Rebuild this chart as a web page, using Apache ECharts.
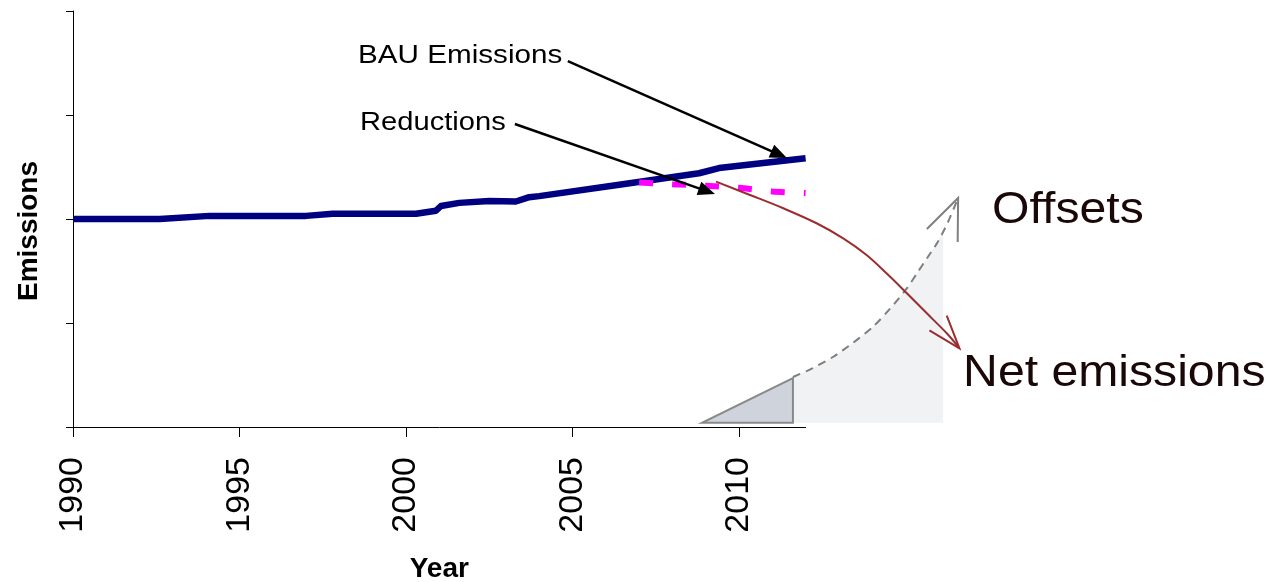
<!DOCTYPE html>
<html><head><meta charset="utf-8">
<script src="https://cdn.jsdelivr.net/npm/echarts@6/dist/echarts.min.js"></script>
<style>html,body{margin:0;padding:0;background:#fff}#c{width:1271px;height:582px}</style>
</head><body><div id="c"></div>
<script>
// ---- data ----
const bauYears  = [1990, 1992.6, 1994.1, 1997.0, 1997.8, 2000.3, 2000.9, 2001.05, 2001.6, 2002.5, 2003.3, 2003.7, 2004.0, 2006.4, 2008.8, 2009.4, 2012];
const bauValues = [2.00, 2.00, 2.03, 2.03, 2.05, 2.05, 2.08, 2.125, 2.155, 2.173, 2.168, 2.21, 2.22, 2.33, 2.44, 2.49, 2.585];
const reductionYears  = [2007, 2008, 2009, 2010, 2011, 2012];
const reductionValues = [2.35, 2.335, 2.32, 2.30, 2.265, 2.25];
const xTickYears = [1990, 1995, 2000, 2005, 2010];

// annotation geometry, in data units (year, emissions)
const netYears  = [2009.31, 2010.33, 2011.33, 2012.33, 2013.13, 2013.83, 2014.43, 2015.04, 2015.64, 2016.24, 2016.62];
const netValues = [2.359, 2.231, 2.103, 1.959, 1.814, 1.654, 1.478, 1.286, 1.093, 0.901, 0.757];
const offsetYears  = [2011.62, 2012.22, 2012.82, 2013.42, 2014.02, 2014.53, 2015.05, 2015.35, 2015.65, 2015.95, 2016.25, 2016.58];
const offsetValues = [0.481, 0.567, 0.673, 0.808, 0.962, 1.135, 1.337, 1.481, 1.625, 1.769, 1.952, 2.202];
const offsetFillEnd = [2016.13, 1.885];
const baseValue = 0.04;
const triangleYears = [2008.89, 2011.62, 2011.62];
const triangleValues = [0.04, 0.04, 0.471];
const bauArrow = [[2004.86, 3.519], [2011.44, 2.587]];
const redArrow = [[2003.27, 2.913], [2009.28, 2.240]];
const labels = [
  {text: 'BAU Emissions', at: [1998.56, 3.567], size: 26, sx: 1.14, color: '#000'},
  {text: 'Reductions',    at: [1998.62, 2.923], size: 26, sx: 1.12, color: '#000'},
  {text: 'Offsets',       at: [2017.60, 2.077], size: 45, sx: 1.07, color: '#1a0808'},
  {text: 'Net emissions', at: [2016.73, 0.510], size: 45, sx: 1.07, color: '#1a0808'}
];

const FONT = "'Liberation Sans', Arial, sans-serif";
const chart = echarts.init(document.getElementById('c'), null, {renderer: 'canvas'});

chart.setOption({
  animation: false,
  backgroundColor: '#fff',
  grid: {left: 73, right: 465.4, top: 11, bottom: 155, containLabel: false, outerBoundsMode: 'none'},
  xAxis: {
    type: 'value', min: 1990, max: 2012, interval: 5,
    name: 'Year', nameLocation: 'middle', nameGap: 128,
    nameTextStyle: {fontFamily: FONT, fontWeight: 'bold', fontSize: 28, color: '#000'},
    axisLine: {show: true, lineStyle: {color: '#000', width: 1}},
    axisTick: {show: true, length: 10, lineStyle: {color: '#000'}, customValues: xTickYears},
    axisLabel: {rotate: 90, margin: 30, fontFamily: FONT, fontSize: 34, color: '#000',
      customValues: xTickYears, formatter: v => String(v)},
    splitLine: {show: false}
  },
  yAxis: {
    type: 'value', min: 0, max: 4, interval: 1,
    name: 'Emissions', nameLocation: 'middle', nameGap: 30,
    nameTextStyle: {fontFamily: FONT, fontWeight: 'bold', fontSize: 28, color: '#000', padding: [0, 24, 0, 0]},
    axisLine: {show: true, lineStyle: {color: '#000', width: 1}},
    axisTick: {show: true, length: 7, lineStyle: {color: '#000'}},
    axisLabel: {show: false},
    splitLine: {show: false}
  },
  series: [
    {
      type: 'line', name: 'BAU Emissions', showSymbol: false, symbol: 'none',
      data: bauYears.map((y, i) => [y, bauValues[i]]),
      lineStyle: {color: '#000080', width: 6.5, cap: 'butt', join: 'round'}, z: 3
    },
    {
      type: 'line', name: 'Reductions', showSymbol: false, symbol: 'none', smooth: 0.3,
      data: reductionYears.map((y, i) => [y, reductionValues[i]]),
      lineStyle: {color: '#ff00ff', width: 6, type: [14, 19], cap: 'butt'}, z: 4
    }
  ]
});

function px(p) { return chart.convertToPixel({gridIndex: 0}, p); }
function openHead(tip, from, len, half) {
  const a = Math.atan2(from[1] - tip[1], from[0] - tip[0]);
  return [
    [tip[0] + len * Math.cos(a + half), tip[1] + len * Math.sin(a + half)],
    tip,
    [tip[0] + len * Math.cos(a - half), tip[1] + len * Math.sin(a - half)]
  ];
}
function filledHead(tip, from, len, halfW) {
  const a = Math.atan2(tip[1] - from[1], tip[0] - from[0]);
  const bx = tip[0] - len * Math.cos(a), by = tip[1] - len * Math.sin(a);
  const nx = -Math.sin(a), ny = Math.cos(a);
  return [tip, [bx + halfW * nx, by + halfW * ny], [bx - halfW * nx, by - halfW * ny]];
}

const offPts = offsetYears.map((y, i) => px([y, offsetValues[i]]));
const fillPts = [];
offsetYears.forEach((y, i) => { if (y <= offsetFillEnd[0]) fillPts.push(px([y, offsetValues[i]])); });
fillPts.push(px(offsetFillEnd));
fillPts.push(px([offsetFillEnd[0], baseValue]));
fillPts.push(px([offsetYears[0], baseValue]));
const triPts = triangleYears.map((y, i) => px([y, triangleValues[i]]));
const netPts = netYears.map((y, i) => px([y, netValues[i]]));

const g = [];
g.push({type: 'polygon', shape: {points: fillPts}, style: {fill: '#f1f2f4', stroke: null}, z: 1});
g.push({type: 'polygon', shape: {points: triPts}, style: {fill: '#cfd4dc', stroke: '#8a8a8a', lineWidth: 2}, z: 2});
g.push({type: 'polyline', shape: {points: offPts, smooth: 0.2}, style: {stroke: '#7f7f7f', lineWidth: 2, lineDash: [8, 6], fill: null}, z: 3});
const oTip = offPts[offPts.length - 1], oFrom = offPts[offPts.length - 2];
g.push({type: 'polyline', shape: {points: openHead(oTip, oFrom, 44, 0.39)}, style: {stroke: '#7f7f7f', lineWidth: 2, fill: null}, z: 3});
g.push({type: 'polyline', shape: {points: netPts, smooth: 0.35}, style: {stroke: '#9b2d30', lineWidth: 2, fill: null}, z: 5});
const nTip = netPts[netPts.length - 1], nFrom = netPts[netPts.length - 2];
g.push({type: 'polyline', shape: {points: openHead(nTip, nFrom, 35, 0.33)}, style: {stroke: '#9b2d30', lineWidth: 2, fill: null}, z: 5});

[bauArrow, redArrow].forEach(arr => {
  const a = px(arr[0]), b = px(arr[1]);
  const head = filledHead(b, a, 17, 7);
  const ang = Math.atan2(b[1] - a[1], b[0] - a[0]);
  const end = [b[0] - 14 * Math.cos(ang), b[1] - 14 * Math.sin(ang)];
  g.push({type: 'line', shape: {x1: a[0], y1: a[1], x2: end[0], y2: end[1]}, style: {stroke: '#000', lineWidth: 2.5}, z: 10});
  g.push({type: 'polygon', shape: {points: head}, style: {fill: '#000'}, z: 10});
});

labels.forEach(l => {
  const p = px(l.at);
  g.push({type: 'text', x: p[0], y: p[1], scaleX: l.sx, z: 10,
    style: {text: l.text, fill: l.color, font: l.size + 'px ' + FONT, textAlign: 'left', textVerticalAlign: 'middle'}});
});

chart.setOption({graphic: {elements: g}});
</script>
</body></html>
